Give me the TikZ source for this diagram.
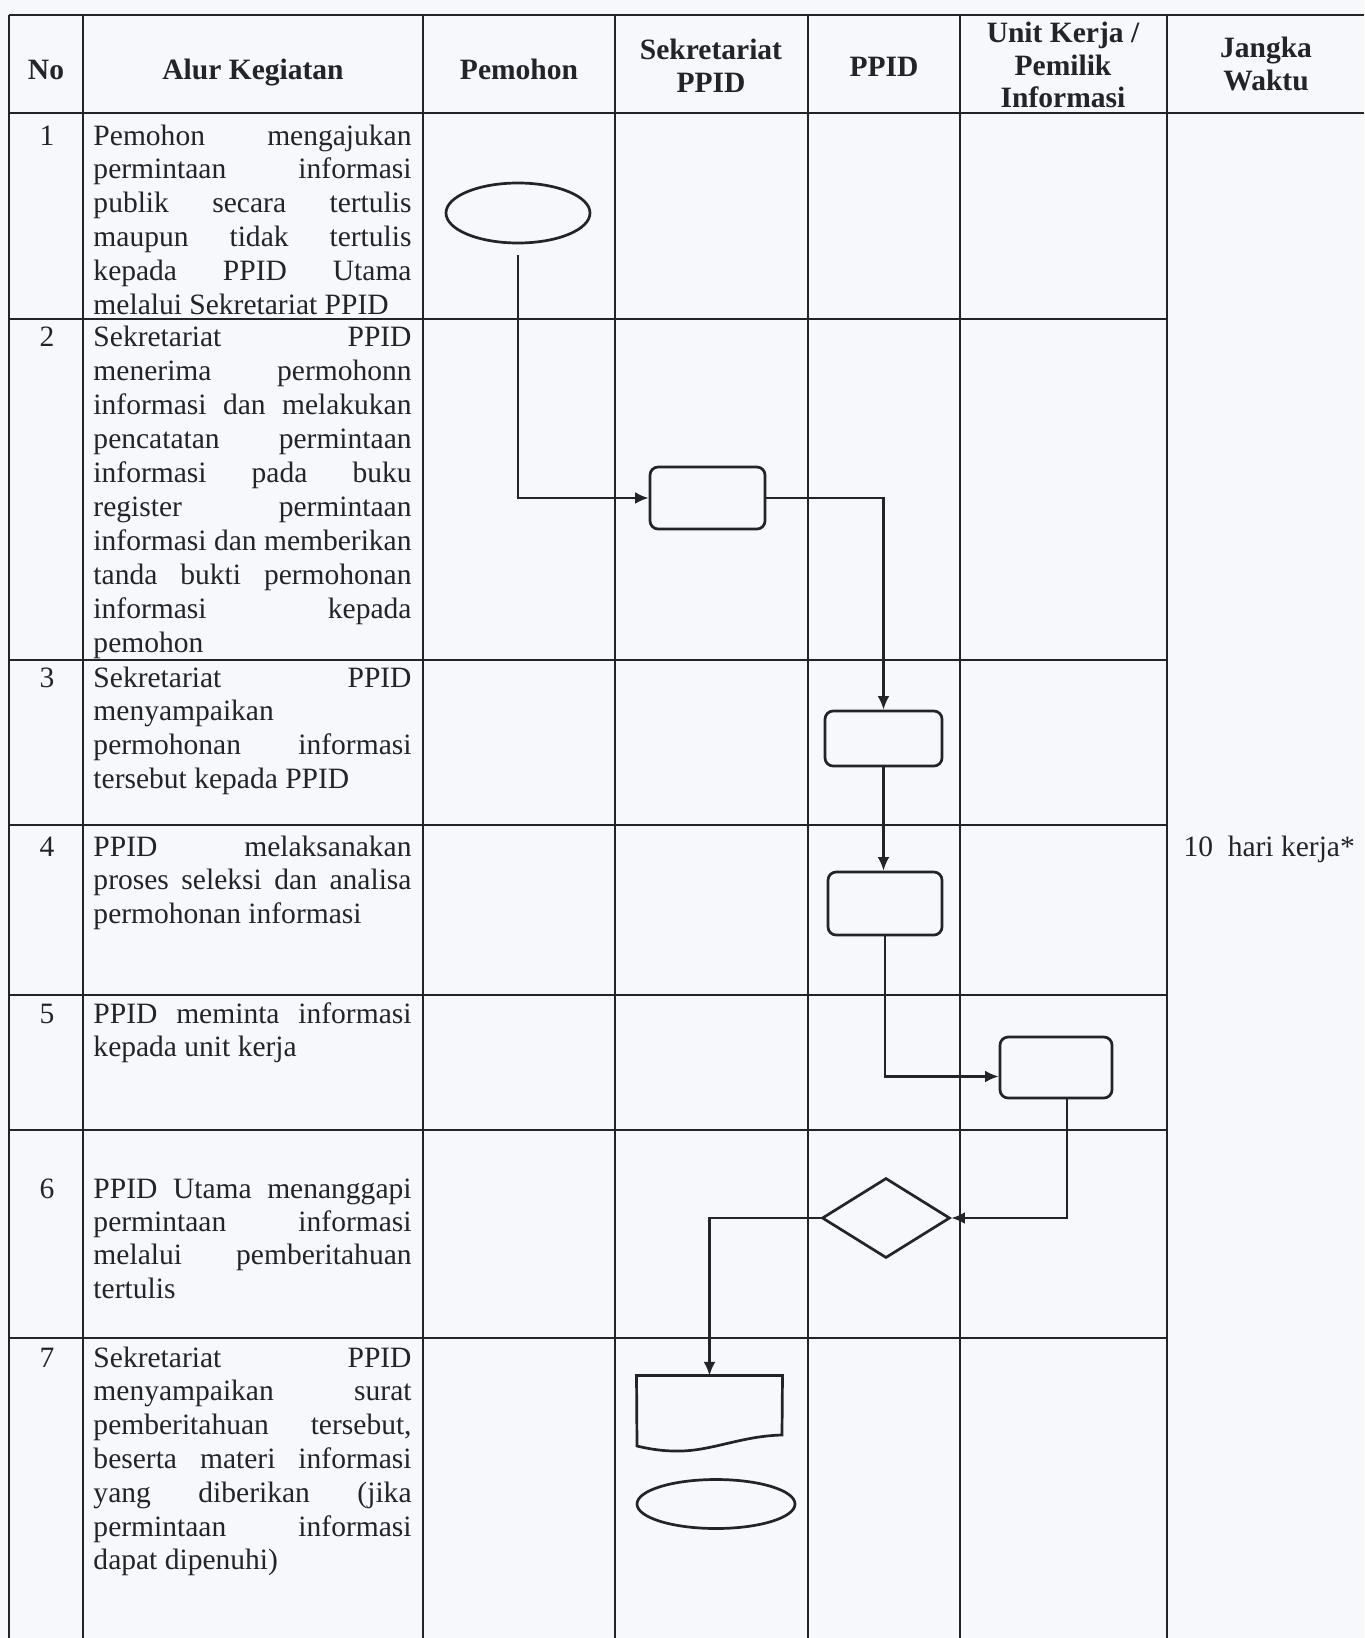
\documentclass[tikz,border=0pt]{standalone}
\usepackage{fontspec}
\setmainfont{Liberation Serif}
\usetikzlibrary{shapes.geometric,arrows.meta,calc}
\newdimen\colw \colw=129.3pt
\def\u{0.4065pt}
\newcommand{\rowtxt}[2]{\parbox[t]{\colw}{\fontsize{12}{#1}\selectfont #2}}
\newcommand{\jl}[1]{\makebox[\colw][s]{#1}\\}
\definecolor{bgc}{RGB}{246,248,251}
\definecolor{ink}{RGB}{35,35,40}
\begin{document}
\begin{tikzpicture}[x=0.4065pt,y=-0.4065pt,
  tline/.style={draw=ink,line width=0.8pt},
  fshape/.style={draw=ink,line width=1.1pt,inner sep=0pt},
  rbox/.style={fshape,rectangle,rounded corners=3.3pt},
  ell/.style={fshape,ellipse},
  conn/.style={draw=ink,line width=0.9pt,-{Latex[length=5.5pt,width=4.8pt]}},
  hdr/.style={font=\fontsize{12}{13.3}\selectfont\bfseries,align=center,inner sep=0pt,text=ink},
  num/.style={font=\fontsize{12}{13}\selectfont,anchor=base,inner sep=0pt,text=ink},
  desc/.style={anchor=base west,inner sep=0pt,text=ink}]
\fill[bgc] (0,0) rectangle (1364,1638);
\useasboundingbox (0,0) rectangle (1364,1638);
% table grid
\draw[tline] (9,15) -- (1364,15);
\draw[tline] (9,113) -- (1364,113);
\foreach \y in {319,660,825,995,1130,1338} \draw[tline] (9,\y) -- (1167,\y);
\foreach \x in {9,83,423,615,808,960,1167} \draw[tline] (\x,15) -- (\x,1638);
% header
\node[hdr,anchor=base] (hNo) at (46,80) {No};
\node[hdr,anchor=base] (hAlur) at (253,80) {Alur Kegiatan};
\node[hdr,anchor=base] (hPem) at (519,80) {Pemohon};
\node[hdr] (hSek) at (711,66) {Sekretariat\\PPID};
\node[hdr,anchor=base] (hPPID) at (884,76) {PPID};
\node[hdr] (hUnit) at (1063,65) {Unit Kerja /\\Pemilik\\Informasi};
\node[hdr] (hJW) at (1266,64) {Jangka\\Waktu};
% numbers
\node[num] (n1) at (47,145) {1};
\node[num] (n2) at (47,346) {2};
\node[num] (n3) at (47,687) {3};
\node[num] (n4) at (47,856) {4};
\node[num] (n5) at (47,1023) {5};
\node[num] (n6) at (47,1198) {6};
\node[num] (n7) at (47,1367) {7};
% descriptions
\node[desc] (d1) at (93,145) {\rowtxt{13.74pt}{\jl{Pemohon mengajukan}\jl{permintaan informasi}\jl{publik secara tertulis}\jl{maupun tidak tertulis}\jl{kepada PPID Utama}melalui Sekretariat PPID}};
\node[desc] (d2) at (93,346) {\rowtxt{13.85pt}{\jl{Sekretariat PPID}\jl{menerima permohonn}\jl{informasi dan melakukan}\jl{pencatatan permintaan}\jl{informasi pada buku}\jl{register permintaan}\jl{informasi dan memberikan}\jl{tanda bukti permohonan}\jl{informasi kepada}pemohon}};
\node[desc] (d3) at (93,687) {\rowtxt{13.8pt}{\jl{Sekretariat PPID}menyampaikan\\\jl{permohonan informasi}tersebut kepada PPID}};
\node[desc] (d4) at (93,856) {\rowtxt{13.8pt}{\jl{PPID melaksanakan}\jl{proses seleksi dan analisa}permohonan informasi}};
\node[desc] (d5) at (93,1023) {\rowtxt{13.8pt}{\jl{PPID meminta informasi}kepada unit kerja}};
\node[desc] (d6) at (93,1198) {\rowtxt{13.6pt}{\jl{PPID Utama menanggapi}\jl{permintaan informasi}\jl{melalui pemberitahuan}tertulis}};
\node[desc] (d7) at (93,1367) {\rowtxt{13.75pt}{\jl{Sekretariat PPID}\jl{menyampaikan surat}\jl{pemberitahuan tersebut,}\jl{beserta materi informasi}\jl{yang diberikan (jika}\jl{permintaan informasi}dapat dipenuhi)}};
% time
\node[desc,font=\fontsize{12}{13}\selectfont] (jw) at (1183,856) {10\enspace hari kerja*};
% flow shapes
\node[ell,minimum width=144*\u,minimum height=60*\u] (ell1) at (518,213) {};
\node[rbox,minimum width=115*\u,minimum height=62*\u] (box2) at (707.5,498) {};
\node[rbox,minimum width=117*\u,minimum height=55*\u] (box3) at (883.5,738.5) {};
\node[rbox,minimum width=114*\u,minimum height=63*\u] (box4) at (885,903.5) {};
\node[rbox,minimum width=112*\u,minimum height=61*\u] (box5) at (1056,1067.5) {};
\node[fshape,diamond,minimum width=128*\u,minimum height=80*\u] (dia) at (886,1218) {};
\node[inner sep=0pt,minimum width=145*\u,minimum height=75*\u] (doc) at (709.5,1413.5) {};
\draw[draw=ink,line width=1.1pt] (doc.north west) -- (doc.north east) -- (782,1435)
  .. controls (740,1436) and (710,1452) .. (675,1451)
  .. controls (660,1451) and (645,1448) .. (637,1446) -- cycle;
\node[ell,minimum width=158*\u,minimum height=49*\u] (ell2) at (716,1504) {};
% connectors
\draw[conn] ($(ell1.south)+(0,11)$) |- (box2.west);
\draw[conn] (box2.east) -| (box3.north);
\draw[conn] (box3.south) -- (box3.south |- box4.north);
\draw[conn] (box4.south) |- ($(box5.west)+(0,9)$);
\draw[conn] ($(box5.south)+(11,0)$) |- (dia.east);
\draw[conn] (dia.west) -| (doc.north);
\end{tikzpicture}
\end{document}
